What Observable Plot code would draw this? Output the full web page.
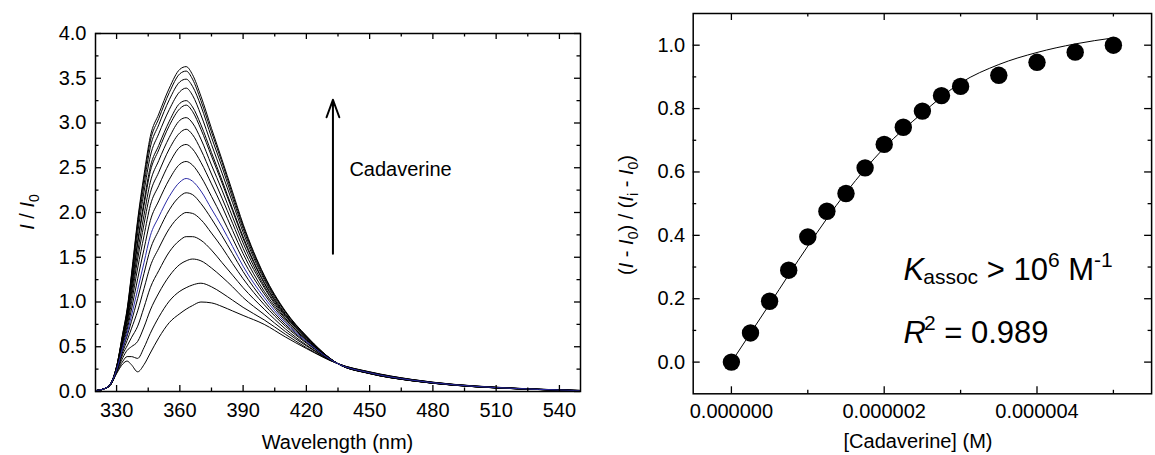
<!DOCTYPE html>
<html>
<head>
<meta charset="utf-8">
<script src="https://cdn.jsdelivr.net/npm/d3@7"></script>
<script src="https://cdn.jsdelivr.net/npm/@observablehq/plot@0.6"></script>
<style>
html, body { margin: 0; padding: 0; background: #fff; overflow: hidden; }
#wrap { position: relative; width: 1155px; height: 455px; overflow: hidden; background: #fff; }
#left { position: absolute; left: 0; top: 0; }
#right { position: absolute; left: 600px; top: 0; }
svg { font-family: "Liberation Sans", Arial, Helvetica, sans-serif; }
</style>
</head>
<body>
<div id="wrap"><div id="left"></div><div id="right"></div></div>
<script>
// ---------- Left panel: emission spectra (I / I0) ----------
const wavelengths = [320,324,327,330,333,335,337,340,343,346,350,355,360,363,366,370,375,380,385,390,400,410,420,435,450,470,490,510,530,550];
const s01 = [0.01,0.03,0.07,0.20,0.31,0.34,0.30,0.22,0.30,0.43,0.60,0.77,0.87,0.92,0.96,1.00,0.99,0.95,0.90,0.85,0.75,0.61,0.48,0.31,0.220,0.135,0.080,0.048,0.026,0.012];
const s02 = [0.01,0.03,0.07,0.21,0.34,0.39,0.39,0.37,0.49,0.65,0.83,1.01,1.12,1.16,1.19,1.21,1.17,1.10,1.02,0.94,0.80,0.64,0.49,0.31,0.218,0.134,0.079,0.047,0.026,0.012];
const s03 = [0.01,0.03,0.07,0.22,0.38,0.46,0.50,0.56,0.72,0.91,1.10,1.29,1.42,1.46,1.48,1.46,1.38,1.28,1.17,1.05,0.86,0.67,0.51,0.31,0.216,0.132,0.078,0.046,0.025,0.011];
const s04 = [0.01,0.03,0.07,0.22,0.42,0.51,0.60,0.73,0.94,1.16,1.35,1.56,1.69,1.73,1.73,1.69,1.58,1.44,1.30,1.16,0.92,0.70,0.52,0.31,0.214,0.131,0.077,0.046,0.025,0.011];
const s05 = [0.01,0.03,0.07,0.23,0.45,0.57,0.70,0.90,1.15,1.40,1.60,1.82,1.96,2.00,1.99,1.92,1.77,1.61,1.43,1.26,0.97,0.73,0.54,0.31,0.212,0.129,0.076,0.045,0.024,0.010];
const s06 = [0.01,0.03,0.07,0.24,0.48,0.62,0.78,1.04,1.32,1.59,1.80,2.03,2.18,2.22,2.20,2.10,1.93,1.74,1.54,1.34,1.01,0.75,0.55,0.31,0.210,0.128,0.075,0.044,0.024,0.010];
const s07 = [0.01,0.03,0.08,0.24,0.50,0.65,0.84,1.14,1.44,1.74,1.95,2.18,2.34,2.38,2.35,2.24,2.04,1.84,1.62,1.40,1.05,0.77,0.56,0.31,0.209,0.127,0.075,0.044,0.024,0.010];
const s08 = [0.01,0.03,0.08,0.25,0.52,0.69,0.91,1.26,1.59,1.91,2.13,2.37,2.54,2.57,2.53,2.40,2.18,1.95,1.71,1.47,1.09,0.79,0.57,0.31,0.208,0.126,0.074,0.043,0.024,0.010];
const s09 = [0.01,0.03,0.08,0.25,0.55,0.73,0.98,1.38,1.74,2.08,2.30,2.55,2.73,2.76,2.71,2.56,2.32,2.07,1.80,1.54,1.12,0.81,0.58,0.31,0.206,0.125,0.073,0.043,0.023,0.009];
const s10 = [0.01,0.03,0.08,0.26,0.57,0.77,1.04,1.48,1.87,2.22,2.45,2.71,2.89,2.93,2.87,2.70,2.43,2.16,1.88,1.60,1.16,0.82,0.58,0.31,0.205,0.124,0.073,0.042,0.023,0.009];
const s11 = [0.01,0.03,0.08,0.26,0.59,0.80,1.09,1.56,1.97,2.34,2.58,2.84,3.03,3.06,3.00,2.82,2.53,2.25,1.95,1.66,1.18,0.84,0.59,0.31,0.204,0.123,0.072,0.042,0.023,0.009];
const s12 = [0.01,0.03,0.08,0.27,0.60,0.83,1.14,1.65,2.08,2.46,2.70,2.97,3.16,3.20,3.13,2.93,2.63,2.33,2.02,1.71,1.21,0.85,0.60,0.31,0.203,0.122,0.072,0.041,0.023,0.009];
const s13 = [0.01,0.03,0.08,0.27,0.61,0.84,1.16,1.68,2.12,2.51,2.75,3.02,3.22,3.25,3.18,2.98,2.67,2.36,2.04,1.73,1.22,0.86,0.60,0.31,0.203,0.122,0.071,0.041,0.023,0.009];
const s14 = [0.01,0.03,0.08,0.27,0.63,0.87,1.21,1.77,2.23,2.63,2.88,3.15,3.35,3.39,3.31,3.09,2.76,2.44,2.11,1.78,1.25,0.87,0.61,0.31,0.202,0.121,0.071,0.041,0.022,0.008];
const s15 = [0.01,0.03,0.08,0.28,0.64,0.89,1.25,1.84,2.31,2.73,2.98,3.26,3.46,3.49,3.41,3.19,2.84,2.51,2.16,1.82,1.27,0.89,0.61,0.31,0.201,0.121,0.071,0.040,0.022,0.008];
const s16 = [0.01,0.03,0.08,0.28,0.65,0.91,1.28,1.89,2.38,2.80,3.05,3.34,3.55,3.58,3.49,3.25,2.90,2.56,2.20,1.85,1.29,0.89,0.62,0.31,0.200,0.120,0.070,0.040,0.022,0.008];
const s17 = [0.01,0.03,0.08,0.28,0.66,0.92,1.30,1.92,2.42,2.85,3.10,3.39,3.60,3.63,3.54,3.30,2.94,2.59,2.23,1.87,1.30,0.90,0.62,0.31,0.200,0.120,0.070,0.040,0.022,0.008];
const spectra = [s01,s02,s03,s04,s05,s06,s07,s08,s09,s10,s11,s12,s13,s14,s15,s16,s17];
const blueSpectrum = 6; // the 7th trace is drawn in blue

const wlTicks = [330,360,390,420,450,480,510,540];
const wlMinor = [345,375,405,435,465,495,525];
const ratioTicks = [0,0.5,1,1.5,2,2.5,3,3.5,4];
const ratioMinor = [0.25,0.75,1.25,1.75,2.25,2.75,3.25,3.75];

// ---------- Right panel: binding isotherm ----------
const concentration = [0,0.25e-6,0.5e-6,0.75e-6,1.0e-6,1.25e-6,1.5e-6,1.75e-6,2.0e-6,2.25e-6,2.5e-6,2.75e-6,3.0e-6,3.5e-6,4.0e-6,4.5e-6,5.0e-6];
const response = [0,0.092,0.192,0.290,0.395,0.476,0.532,0.613,0.687,0.741,0.792,0.841,0.870,0.905,0.946,0.978,1.000];
const fitConcentration = [0,0.5e-6,1.0e-6,1.5e-6,2.0e-6,2.5e-6,3.0e-6,3.5e-6,4.0e-6,4.5e-6,5.0e-6];
const fitResponse = [0,0.183,0.366,0.535,0.676,0.786,0.881,0.939,0.977,1.004,1.023];

const concTicks = [0,2e-6,4e-6];
const concMinor = [1e-6,3e-6,5e-6];
const respTicks = [0,0.2,0.4,0.6,0.8,1.0];
const respMinor = [0.1,0.3,0.5,0.7,0.9];

// ---------- helpers ----------
const FONT = "Liberation Sans, Arial, Helvetica, sans-serif";
const FS = 20;

function frameTicks(xMajor, xMinor, yMajor, yMinor, xd, yd, pxX, pxY, majorLen, minorLen) {
  const marks = [];
  const [x0, x1] = xd, [y0, y1] = yd;
  for (const [vals, len] of [[xMajor, majorLen], [xMinor, minorLen]]) {
    marks.push(Plot.ruleX(vals, {x: d => d, y1: y0, y2: y0 + len * pxY, stroke: "#000", strokeWidth: 1.3}));
    marks.push(Plot.ruleX(vals, {x: d => d, y1: y1, y2: y1 - len * pxY, stroke: "#000", strokeWidth: 1.3}));
  }
  for (const [vals, len] of [[yMajor, majorLen], [yMinor, minorLen]]) {
    marks.push(Plot.ruleY(vals, {y: d => d, x1: x0, x2: x0 + len * pxX, stroke: "#000", strokeWidth: 1.3}));
    marks.push(Plot.ruleY(vals, {y: d => d, x1: x1, x2: x1 - len * pxX, stroke: "#000", strokeWidth: 1.3}));
  }
  return marks;
}

function richText(svg, x, y, parts, {size = FS, anchor = "start", rotate = false} = {}) {
  const t = d3.select(svg).append("text")
    .attr("x", x).attr("y", y)
    .attr("font-size", size)
    .attr("font-family", FONT)
    .attr("fill", "#000")
    .attr("text-anchor", anchor);
  if (rotate) t.attr("transform", `rotate(-90 ${x} ${y})`);
  for (const p of parts) {
    const ts = t.append("tspan").text(p.t);
    if (p.i) ts.attr("font-style", "italic");
    if (p.s) ts.attr("font-size", p.s);
    if (p.dy) ts.attr("dy", p.dy);
    if (p.dx) ts.attr("dx", p.dx);
  }
  return t;
}

// ---------- Left plot ----------
const rows = [];
spectra.forEach((s, k) => s.forEach((v, i) => rows.push({wl: wavelengths[i], v, k})));

const LW = 600, LH = 455, LML = 95, LMR = 20, LMT = 33, LMB = 64;
const lxd = [320, 550], lyd = [0, 4];
const lpxX = (lxd[1] - lxd[0]) / (LW - LML - LMR);
const lpxY = (lyd[1] - lyd[0]) / (LH - LMT - LMB);

const leftPlot = Plot.plot({
  width: LW, height: LH,
  marginLeft: LML, marginRight: LMR, marginTop: LMT, marginBottom: LMB,
  style: {fontFamily: FONT, fontSize: FS + "px", color: "#000", background: "#fff", overflow: "visible"},
  x: {domain: lxd},
  y: {domain: lyd},
  marks: [
    Plot.line(rows.filter(d => d.k !== blueSpectrum), {x: "wl", y: "v", z: "k", stroke: "#000", strokeWidth: 1, curve: "monotone-x"}),
    Plot.line(rows.filter(d => d.k === blueSpectrum), {x: "wl", y: "v", stroke: "#2a2aa6", strokeWidth: 1, curve: "monotone-x"}),
    Plot.frame({stroke: "#000", strokeWidth: 1.5}),
    ...frameTicks(wlTicks, wlMinor, ratioTicks, ratioMinor, lxd, lyd, lpxX, lpxY, 6, 3.5),
    Plot.axisX({ticks: wlTicks, tickSize: 0, tickPadding: 11, tickFormat: d => String(d), fontSize: FS, label: null}),
    Plot.axisY({ticks: ratioTicks, tickSize: 0, tickPadding: 9, tickFormat: d3.format(".1f"), fontSize: FS, label: null}),
    Plot.arrow({length: 1}, {x1: () => 432.6, y1: () => 1.54, x2: () => 432.6, y2: () => 3.26, stroke: "#000", strokeWidth: 2, headLength: 14, headAngle: 40}),
    Plot.text(["Cadaverine"], {x: () => 440.4, y: () => 2.48, text: d => d, textAnchor: "start", lineAnchor: "middle", fontSize: FS, fill: "#000"})
  ]
});
document.getElementById("left").appendChild(leftPlot);

richText(leftPlot, 337.5, 449, [{t: "Wavelength (nm)"}], {anchor: "middle"});
richText(leftPlot, 33.5, 212, [
  {t: "I", i: true}, {t: " / "}, {t: "I", i: true}, {t: "0", s: 14, dy: 5}
], {anchor: "middle", rotate: true});

// ---------- Right plot ----------
const points = concentration.map((c, i) => ({c, r: response[i]}));
const fit = fitConcentration.map((c, i) => ({c, r: fitResponse[i]}));

const RW = 555, RH = 455, RML = 92.7, RMR = 3.9, RMT = 13, RMB = 61.7;
const rxd = [-0.5e-6, 5.5e-6], ryd = [-0.1, 1.1];
const rpxX = (rxd[1] - rxd[0]) / (RW - RML - RMR);
const rpxY = (ryd[1] - ryd[0]) / (RH - RMT - RMB);

const rightPlot = Plot.plot({
  width: RW, height: RH,
  marginLeft: RML, marginRight: RMR, marginTop: RMT, marginBottom: RMB,
  style: {fontFamily: FONT, fontSize: FS + "px", color: "#000", background: "#fff", overflow: "visible"},
  x: {domain: rxd},
  y: {domain: ryd},
  marks: [
    Plot.line(fit, {x: "c", y: "r", stroke: "#000", strokeWidth: 1, curve: "monotone-x"}),
    Plot.dot(points, {x: "c", y: "r", r: 8.7, fill: "#000", stroke: "none"}),
    Plot.frame({stroke: "#000", strokeWidth: 1.5}),
    ...frameTicks(concTicks, concMinor, respTicks, respMinor, rxd, ryd, rpxX, rpxY, 7, 3.5),
    Plot.axisX({ticks: concTicks, tickSize: 0, tickPadding: 10, tickFormat: d3.format(".6f"), fontSize: FS, label: null}),
    Plot.axisY({ticks: respTicks, tickSize: 0, tickPadding: 8, tickFormat: d3.format(".1f"), fontSize: FS, label: null})
  ]
});
document.getElementById("right").appendChild(rightPlot);

richText(rightPlot, 318, 447.5, [{t: "[Cadaverine] (M)"}], {anchor: "middle"});
richText(rightPlot, 32.5, 215, [
  {t: "("}, {t: "I", i: true}, {t: " - "}, {t: "I", i: true}, {t: "0", s: 14, dy: 5},
  {t: ") / (", dy: -5}, {t: "I", i: true}, {t: "i", s: 14, dy: 5}, {t: " - ", dy: -5},
  {t: "I", i: true}, {t: "0", s: 14, dy: 5}, {t: ")", dy: -5}
], {anchor: "middle", rotate: true});

const sx = rightPlot.scale("x"), sy = rightPlot.scale("y");
const kx = sx.apply(2.26e-6), ky = sy.apply(0.256), ry = sy.apply(0.058);
richText(rightPlot, kx, ky, [
  {t: "K", i: true}, {t: "assoc", s: 21, dy: 4, dx: -1}, {t: " > 10", dy: -4},
  {t: "6", s: 21, dy: -13}, {t: " M", dy: 13}, {t: "-1", s: 21, dy: -13}
], {size: 31});
richText(rightPlot, kx, ry, [
  {t: "R", i: true}, {t: "2", s: 21, dy: -13, dx: -2}, {t: " = 0.989", dy: 13}
], {size: 31});
</script>
</body>
</html>
